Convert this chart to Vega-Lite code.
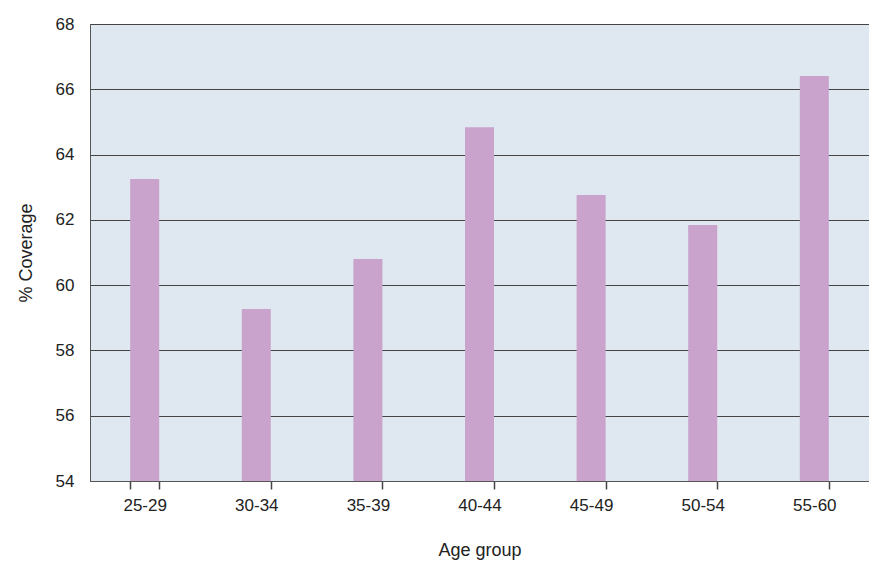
{
"$schema":"https://vega.github.io/schema/vega-lite/v6.json",
"autosize":"none",
"padding":{"left":90,"top":24,"right":0,"bottom":92},
"width":779,"height":457,
"background":"white",
"config":{"axisX":{"ticks":true,"tickOpacity":1}},
"view":{"fill":"#dfe8f0","stroke":"#555","strokeWidth":1},
"data":{"values":[
{"g":"25-29","v":63.25},{"g":"30-34","v":59.27},{"g":"35-39","v":60.8},{"g":"40-44","v":64.84},{"g":"45-49","v":62.76},{"g":"50-54","v":61.84},{"g":"55-60","v":66.41}]},
"mark":{"type":"bar","color":"#c9a3cc","clip":true},
"encoding":{
"x":{"field":"g","type":"nominal","title":"Age group","scale":{"paddingInner":0.74,"paddingOuter":0.36},
"axis":{"labelAngle":0,"labelFont":"Liberation Sans","labelFontSize":17,"labelColor":"#222","titleFont":"Liberation Sans","titleFontSize":18,"titleFontWeight":"normal","titleColor":"#222","titlePadding":28,"labelPadding":8,"ticks":true,"tickOpacity":1,"tickColor":"#444","tickWidth":1.5,"tickSize":8,"tickBand":"extent","domainColor":"#555","grid":false}},
"y":{"field":"v","type":"quantitative","title":"% Coverage","scale":{"domain":[54,68],"nice":false,"zero":false},
"axis":{"values":[54,56,58,60,62,64,66,68],"labelFont":"Liberation Sans","labelFontSize":17,"labelColor":"#222","titleFont":"Liberation Sans","titleFontSize":18,"titleFontWeight":"normal","titleColor":"#222","titlePadding":20,"tickSize":0,"labelPadding":16,"gridColor":"#444","gridOpacity":1,"domainColor":"#555"}}
}
}
